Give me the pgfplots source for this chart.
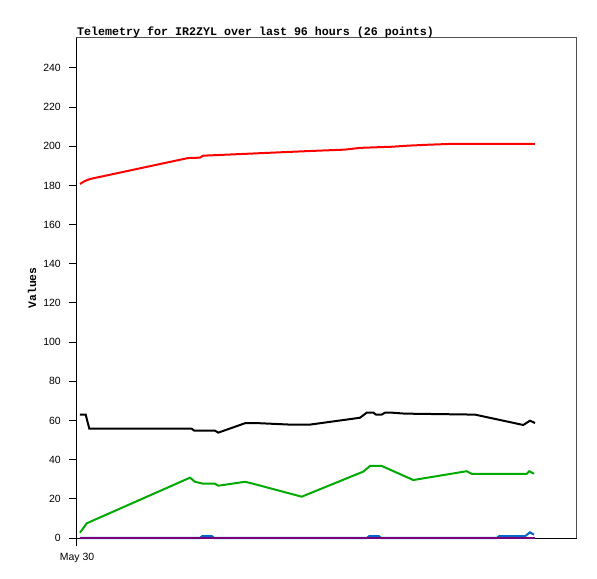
\documentclass[border=0pt]{standalone}
\usepackage{pgfplots}
\pgfplotsset{compat=1.18}
\usepackage{fontspec}
\setmainfont{Liberation Sans}
\newfontfamily\monofont{Liberation Mono}

\definecolor{tred}{RGB}{255,0,0}
\definecolor{tgreen}{RGB}{0,170,0}
\definecolor{tblue}{RGB}{0,102,204}
\definecolor{tpurple}{RGB}{120,0,120}
\definecolor{frame}{RGB}{80,80,80}

\begin{document}
\begin{tikzpicture}
\begin{axis}[
    at={(0,0)}, anchor=south west,
    scale only axis,
    width=500bp, height=500bp,
    xmin=77, xmax=577,
    ymin=0, ymax=255.3,
    clip=false,
    axis line style={draw=frame, line width=1bp},
    tick align=outside,
    major tick length=8bp,
    tick style={black, line width=1bp},
    xtick pos=bottom, ytick pos=left,
    xtick={77}, xticklabels={May 30},
    ytick={0,20,...,240},
    /pgf/number format/assume math mode=true,
    ticklabel style={font=\fontsize{10.5}{12}\selectfont},
    yticklabel style={anchor=east, inner sep=0pt, xshift=-8bp},
    xticklabel style={anchor=north, inner sep=0pt, yshift=-7bp},
    title={Telemetry for IR2ZYL over last 96 hours (26 points)},
    title style={at={(rel axis cs:0,1)}, anchor=base west, inner sep=0pt,
        yshift=-3bp, font=\monofont\bfseries\fontsize{11.7}{12}\selectfont},
    ylabel={Values},
    ylabel style={at={(rel axis cs:0,0.5)}, anchor=center, yshift=45bp,
        inner sep=0pt, font=\monofont\bfseries\fontsize{11.4}{12}\selectfont},
    every axis plot/.append style={line width=2bp, line join=miter, mark=none},
]
% black left and bottom axis lines under the data
\draw[black, line width=1bp] (rel axis cs:0,1) -- (rel axis cs:0,0) -- (rel axis cs:1,0);

% red series
\addplot[tred] coordinates {
    (80,180.8) (85,182.3) (90,183.3) (188,194.0) (200,194.2) (203,195.2)
    (310,197.6) (345,198.3) (360,199.2) (393,199.8) (407,200.3) (428,200.8)
    (455,201.3) (535,201.3)
};

% black series
\addplot[black] coordinates {
    (80,63.0) (85.7,63.0) (89.3,55.8) (191.7,55.8) (194.3,54.8) (215,54.8)
    (218.3,53.8) (245,58.6) (260,58.6) (290,57.9) (310,57.9) (360,61.4)
    (366.7,64.0) (373.3,64.0) (376,63.0) (381.7,63.0) (385,64.0) (391.7,64.0)
    (405,63.5) (475,63.0) (523.3,57.7) (530,59.9) (535,58.7)
};

% green series
\addplot[tgreen] coordinates {
    (80,2.7) (86.7,7.5) (190,30.8) (195,28.7) (203.3,27.7) (215,27.7)
    (218.3,26.7) (245,28.7) (251.7,27.9) (301.7,21.1) (363.3,33.9) (370,36.8)
    (381.7,36.8) (413.3,29.6) (466.7,34.1) (471.7,32.8) (526.7,32.8)
    (529.3,34.1) (534,32.8)
};

% blue series
\addplot[tblue] coordinates {
    (80,0) (200,0) (202,0.9) (212,0.9) (214,0) (367,0) (369,0.9) (379,0.9)
    (381,0) (497,0) (499,0.9) (525,0.9) (530,2.9) (534,1.7)
};

% purple series
\addplot[tpurple] coordinates {
    (80,0) (200,0) (300,0) (400,0) (535,0)
};
\end{axis}
\path[use as bounding box] (-77bp,-41bp) rectangle (520bp,538bp);
\end{tikzpicture}
\end{document}
